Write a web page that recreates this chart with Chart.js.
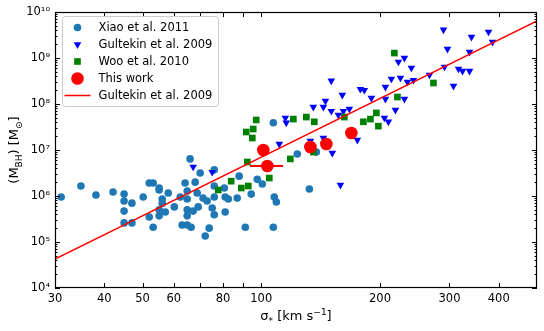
<!DOCTYPE html>
<html>
<head>
<meta charset="utf-8">
<script src="https://cdn.jsdelivr.net/npm/chart.js@4.4.0/dist/chart.umd.min.js"></script>
<style>
html, body { margin: 0; padding: 0; background: #fff; }
#wrap { width: 544px; height: 331px; position: relative; }
</style>
</head>
<body>
<div id="wrap"><canvas id="chart"></canvas></div>
<script>
// sigma_* [km/s] and M_BH [Msun]
const xiaoSigma = [31.1, 34.9, 38.1, 42.1, 44.9, 44.9, 44.9, 44.9, 47.0, 47.0, 50.2, 52.0, 53.2, 52.0, 53.2,
    55.1, 55.1, 56.1, 56.1, 55.1, 55.1, 57.1, 58.1, 60.2, 62.3, 64.1, 64.9, 64.9, 64.9, 64.9, 63.0, 64.9,
    66.4, 67.2, 68.0, 68.8, 69.2, 70.0, 71.2, 72.1, 73.8, 75.1, 76.0, 76.0, 76.0, 76.0, 80.6, 81.0, 82.5,
    81.0, 87.9, 86.9, 91.1, 94.3, 97.7, 100.6, 107.3, 66.0, 107.3, 123.4, 137.9, 132.4, 107.9, 109.2, 72.9];
const xiaoMass = [9.5e5, 1.65e6, 1.05e6, 1.22e6, 1.10e6, 7.8e5, 4.7e5, 2.6e5, 7.0e5, 2.6e5, 9.5e5, 1.92e6, 1.92e6, 3.5e5, 2.1e5,
    1.49e6, 1.35e6, 8.6e5, 7.0e5, 5.0e5, 3.7e5, 4.5e5, 1.16e6, 5.8e5, 9.5e5, 1.92e6, 1.28e6, 8.6e5, 5.0e5, 3.7e5, 2.34e5, 2.34e5,
    2.1e5, 4.7e5, 2.0e6, 1.16e6, 5.8e5, 3.16e6, 9.0e5, 1.35e5, 2.0e5, 5.5e5, 3.9e5, 9.5e5, 1.65e6, 3.7e6, 1.49e6, 9.5e5, 8.6e5,
    4.5e5, 2.7e6, 9.0e5, 2.1e5, 1.10e6, 2.3e6, 1.82e6, 2.1e5, 6.4e6, 3.9e7, 8.2e6, 9.0e6, 1.42e6, 9.5e5, 7.4e5, 7.8e5];

const gultekinSigma = [67.2, 75.1, 111.1, 115.1, 115.7, 133.2, 135.5, 143.7, 145.4, 150.5, 150.5, 156.8, 160.5, 161.5,
    167.2, 143.7, 151.4, 175.2, 158.7, 178.3, 182.5, 190.2, 206.4, 206.4, 205.2, 210.0, 213.7, 218.8, 222.7, 225.3,
    230.6, 230.6, 234.7, 240.2, 243.1, 266.9, 289.7, 291.4, 296.5, 307.1, 316.2, 323.7, 337.2, 337.2, 341.1, 376.8, 385.7];
const gultekinMass = [4.3e6, 3.3e6, 1.35e7, 5.0e7, 3.9e7, 1.57e7, 8.6e7, 8.6e7, 1.16e8, 7.0e7, 3.2e8, 5.8e7, 1.57e8, 7.0e7,
    7.8e7, 1.82e7, 8.6e6, 1.65e7, 1.73e6, 2.1e8, 2.0e8, 1.35e8, 2.34e8, 1.28e8, 5.0e7, 4.1e7, 3.5e8, 7.4e7, 8.2e8, 3.7e8,
    1.0e9, 1.28e8, 3.0e8, 6.1e8, 3.3e8, 4.3e8, 4.1e9, 6.4e8, 1.57e9, 2.46e8, 5.8e8, 5.2e8, 1.35e9, 5.2e8, 2.86e9, 3.7e9, 2.23e9];

const wooSigma = [77.8, 83.9, 89.0, 92.7, 104.8, 92.2, 91.6, 95.4, 97.1, 94.9, 118.5, 120.6, 130.1, 136.3, 135.5,
    162.4, 181.5, 189.1, 195.8, 198.1, 217.5, 221.4, 273.2];
const wooMass = [1.35e6, 2.1e6, 1.49e6, 1.65e6, 2.46e6, 5.5e6, 2.46e7, 2.86e7, 4.5e7, 1.82e7, 6.4e6, 4.7e7, 5.2e7, 4.1e7, 9.0e6,
    5.2e7, 4.1e7, 4.7e7, 6.4e7, 3.3e7, 1.28e9, 1.42e8, 2.86e8];

const thisSigma = [101.2, 103.6, 133.2, 146.2, 169.2];
const thisMass = [1.0e7, 4.5e6, 1.16e7, 1.35e7, 2.34e7];
const thisSigmaErr = [0, 10, 0, 0, 0];

// Gultekin et al. 2009 relation, end points at the axis limits
const fitSigma = [30, 500];
const fitMass = [4.27e4, 6.37e9];

const xTicks = [30, 40, 50, 60, 70, 80, 90, 100, 200, 300, 400];
const xLabelled = [30, 40, 50, 60, 80, 100, 200, 300, 400];
const yTicks = [1e4, 1e5, 1e6, 1e7, 1e8, 1e9, 1e10];
const yTickLabels = ['10\u2074', '10\u2075', '10\u2076', '10\u2077', '10\u2078', '10\u2079', '10\u00b9\u2070'];

const FONT = '"DejaVu Sans", "Liberation Sans", sans-serif';

function pairs(xs, ys) {
    return xs.map((v, i) => ({ x: v, y: ys[i] }));
}

// horizontal error bars as separate two-point segments
const errSegments = [];
thisSigma.forEach((s, i) => {
    if (thisSigmaErr[i] > 0) {
        errSegments.push({ x: s - thisSigmaErr[i], y: thisMass[i] });
        errSegments.push({ x: s + thisSigmaErr[i], y: thisMass[i] });
        errSegments.push({ x: null, y: null });
    }
});

function drawMarker(ctx, style, r, rot, x, y) {
    ctx.beginPath();
    if (style === 'circle') {
        ctx.arc(x, y, r, 0, Math.PI * 2);
    } else if (style === 'rect') {
        const s = r * Math.SQRT1_2;
        ctx.rect(x - s, y - s, 2 * s, 2 * s);
    } else if (style === 'triangle') {
        let a = rot * Math.PI / 180;
        ctx.moveTo(x + Math.sin(a) * r, y - Math.cos(a) * r);
        a += 2 * Math.PI / 3;
        ctx.lineTo(x + Math.sin(a) * r, y - Math.cos(a) * r);
        a += 2 * Math.PI / 3;
        ctx.lineTo(x + Math.sin(a) * r, y - Math.cos(a) * r);
        ctx.closePath();
    }
    ctx.fill();
}

// text with sub/superscripts: parts = [[text, 'n'|'sub'|'sup'], ...]
function drawRich(ctx, parts, cx, baseY, size) {
    const small = Math.round(size * 0.7);
    let total = 0;
    parts.forEach(p => {
        ctx.font = (p[1] === 'n' ? size : small) + 'px ' + FONT;
        total += ctx.measureText(p[0]).width;
    });
    let x = cx - total / 2;
    ctx.textAlign = 'left';
    ctx.textBaseline = 'alphabetic';
    parts.forEach(p => {
        ctx.font = (p[1] === 'n' ? size : small) + 'px ' + FONT;
        const dy = p[1] === 'sub' ? size * 0.28 : (p[1] === 'sup' ? -size * 0.42 : 0);
        ctx.fillText(p[0], x, baseY + dy);
        x += ctx.measureText(p[0]).width;
    });
}

const framePlugin = {
    id: 'frame',
    afterDatasetsDraw(chart) {
        const { ctx, chartArea: a, scales: { x, y } } = chart;
        ctx.save();
        ctx.strokeStyle = '#000';
        ctx.lineWidth = 1;
        ctx.beginPath();
        xTicks.forEach(v => {
            const px = Math.round(x.getPixelForValue(v)) + 0.5;
            ctx.moveTo(px, a.bottom); ctx.lineTo(px, a.bottom - 5);
            ctx.moveTo(px, a.top); ctx.lineTo(px, a.top + 5);
        });
        for (let e = 4; e <= 10; e++) {
            for (let m = 1; m <= 9; m++) {
                if (e === 10 && m > 1) break;
                const py = Math.round(y.getPixelForValue(m * Math.pow(10, e))) + 0.5;
                const len = m === 1 ? 5 : 2.5;
                ctx.moveTo(a.left, py); ctx.lineTo(a.left + len, py);
                ctx.moveTo(a.right, py); ctx.lineTo(a.right - len, py);
            }
        }
        ctx.stroke();
        ctx.lineWidth = 1.2;
        ctx.strokeRect(a.left + 0.5, a.top + 0.5, a.right - a.left - 1, a.bottom - a.top - 1);
        ctx.restore();
    },
    afterDraw(chart) {
        const { ctx, chartArea: a } = chart;
        ctx.save();
        ctx.fillStyle = '#000';
        // x title
        drawRich(ctx, [['\u03c3', 'n'], ['*', 'sub'], [' [km s', 'n'], ['\u22121', 'sup'], [']', 'n']],
            (a.left + a.right) / 2, 320, 13);
        // y title
        ctx.translate(18, (a.top + a.bottom) / 2);
        ctx.rotate(-Math.PI / 2);
        drawRich(ctx, [['(M', 'n'], ['BH', 'sub'], [') [M', 'n'], ['\u2299', 'sub'], [']', 'n']], 0, 0, 13);
        ctx.restore();
    }
};

const legendOrder = [0, 1, 2, 3, 4];
const legendPlugin = {
    id: 'boxLegend',
    afterDraw(chart) {
        const { ctx, chartArea: a } = chart;
        const x0 = a.left + 7.5, y0 = a.top + 4.5, w = 156, h = 90;
        ctx.save();
        ctx.beginPath();
        ctx.roundRect(x0, y0, w, h, 3);
        ctx.fillStyle = 'rgba(255,255,255,0.8)';
        ctx.fill();
        ctx.strokeStyle = '#cccccc';
        ctx.lineWidth = 1;
        ctx.stroke();
        legendOrder.forEach((idx, i) => {
            const ds = chart.data.datasets[idx];
            const cy = y0 + 11 + i * 17;
            const mx = x0 + 15;
            if (ds.showLine) {
                ctx.strokeStyle = ds.borderColor;
                ctx.lineWidth = ds.borderWidth;
                ctx.beginPath();
                ctx.moveTo(x0 + 2, cy); ctx.lineTo(x0 + 28, cy);
                ctx.stroke();
            } else {
                ctx.fillStyle = ds.backgroundColor;
                drawMarker(ctx, ds.pointStyle, ds.pointRadius, ds.rotation || 0, mx, cy);
            }
            ctx.fillStyle = '#000';
            ctx.font = '11.5px ' + FONT;
            ctx.textAlign = 'left';
            ctx.textBaseline = 'middle';
            ctx.fillText(ds.label, x0 + 36, cy + 0.5);
        });
        ctx.restore();
    }
};

new Chart(document.getElementById('chart'), {
    type: 'scatter',
    data: {
        datasets: [
            {
                label: 'Xiao et al. 2011',
                data: pairs(xiaoSigma, xiaoMass),
                backgroundColor: '#1f77b4',
                pointStyle: 'circle',
                pointRadius: 3.8,
                borderWidth: 0,
                order: 6
            },
            {
                label: 'Gultekin et al. 2009',
                data: pairs(gultekinSigma, gultekinMass),
                backgroundColor: '#0000ff',
                pointStyle: 'triangle',
                rotation: 180,
                pointRadius: 4.4,
                borderWidth: 0,
                order: 5
            },
            {
                label: 'Woo et al. 2010',
                data: pairs(wooSigma, wooMass),
                backgroundColor: '#008000',
                pointStyle: 'rect',
                pointRadius: 4.7,
                borderWidth: 0,
                order: 4
            },
            {
                label: 'This work',
                data: pairs(thisSigma, thisMass),
                backgroundColor: '#ff0000',
                pointStyle: 'circle',
                pointRadius: 6.3,
                borderWidth: 0,
                order: 1
            },
            {
                label: 'Gultekin et al. 2009',
                data: pairs(fitSigma, fitMass),
                showLine: true,
                borderColor: '#ff0000',
                borderWidth: 1.5,
                pointRadius: 0,
                order: 3
            },
            {
                label: 'error',
                data: errSegments,
                showLine: true,
                spanGaps: false,
                borderColor: '#ff0000',
                borderWidth: 2,
                pointRadius: 0,
                order: 2
            }
        ]
    },
    options: {
        responsive: true,
        maintainAspectRatio: false,
        animation: false,
        events: [],
        layout: { padding: { left: 0, right: 7, top: 12, bottom: 0 } },
        plugins: {
            legend: { display: false },
            tooltip: { enabled: false }
        },
        scales: {
            x: {
                type: 'logarithmic',
                min: 30,
                max: 500,
                grid: { display: false, drawTicks: false },
                border: { display: false },
                afterBuildTicks: function(scale) {
                    scale.ticks = xTicks.map(v => ({ value: v }));
                },
                afterFit: function(scale) { scale.height = 43; },
                ticks: {
                    autoSkip: false,
                    maxRotation: 0,
                    padding: 4,
                    color: '#000',
                    font: { family: FONT, size: 11.5 },
                    callback: function(value) {
                        return xLabelled.includes(value) ? String(value) : '';
                    }
                }
            },
            y: {
                type: 'logarithmic',
                min: 1e4,
                max: 1e10,
                grid: { display: false, drawTicks: false },
                border: { display: false },
                afterBuildTicks: function(scale) {
                    scale.ticks = yTicks.map(v => ({ value: v }));
                },
                afterFit: function(scale) { scale.width = 55; },
                ticks: {
                    autoSkip: false,
                    padding: 5,
                    color: '#000',
                    font: { family: FONT, size: 11.5 },
                    callback: function(value, index) {
                        return yTickLabels[index];
                    }
                }
            }
        }
    },
    plugins: [framePlugin, legendPlugin]
});
</script>
</body>
</html>
